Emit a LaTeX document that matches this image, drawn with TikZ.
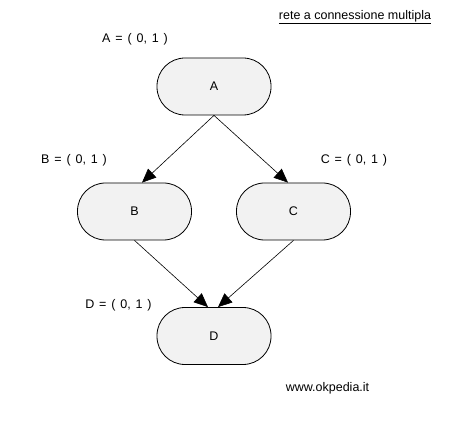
\documentclass[tikz,border=0pt]{standalone}
\usepackage{fontspec}
\setmainfont{Liberation Sans}
\newfontfamily\lblfont[WordSpace=1.4]{Liberation Sans}
\usetikzlibrary{arrows.meta,calc}
\definecolor{nodefill}{HTML}{F2F2F2}
\begin{document}
\begin{tikzpicture}[x=1pt,y=-1pt,
  font=\fontsize{12.5}{15}\selectfont,
  state/.style={draw=black,line width=0.8pt,fill=nodefill,rounded corners=28pt,
    minimum width=114pt,minimum height=57pt,inner sep=0pt},
  lbl/.style={inner sep=0pt,anchor=center,font=\lblfont\fontsize{12.5}{15}\selectfont},
  conn/.style={line width=0.6pt,-{Triangle[length=14pt,width=12pt]}}]
\useasboundingbox[fill=white] (0,0) rectangle (450,430);
\node[state] (A) at (214,86.5) {A};
\node[state] (B) at (134.5,211.5) {B};
\node[state] (C) at (293.5,211.5) {C};
\node[state] (D) at (214,336) {D};
\node[lbl] (la) at (135,39) {A = ( 0, 1 )};
\node[lbl] (lb) at (74,160) {B = ( 0, 1 )};
\node[lbl] (lc) at (354,160) {C = ( 0, 1 )};
\node[lbl] (ld) at (118.5,305) {D = ( 0, 1 )};
\node[inner sep=0pt] (title) at (355,17) {\underline{rete a connessione multipla}};
\node[inner sep=0pt] (www) at (327.5,388) {www.okpedia.it};
\draw[conn] (A.south) -- ($(B.north)+(7.5,0)$);
\draw[conn] (A.south) -- ($(C.north)+(-5.5,0)$);
\draw[conn] (B.south) -- ($(D.north)+(-6,0)$);
\draw[conn] (C.south) -- ($(D.north)+(4,0)$);
\end{tikzpicture}
\end{document}
